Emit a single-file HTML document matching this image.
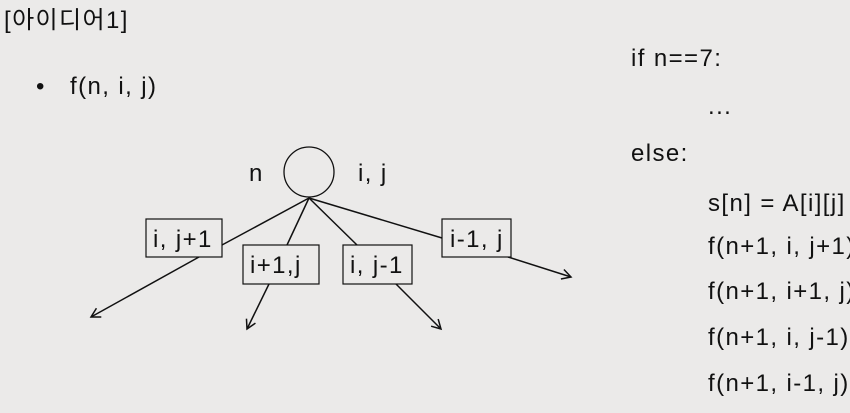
<!DOCTYPE html>
<html><head><meta charset="utf-8"><style>
body{margin:0;width:850px;height:413px;background:#ebeae9;overflow:hidden;position:relative;font-family:"Liberation Sans","Noto Sans CJK KR",sans-serif;color:#111}
.t{position:absolute;font-size:24px;letter-spacing:1.4px;white-space:nowrap;line-height:1}
</style></head><body>
<div class="t" style="left:4px;top:9px">[아이디어1]</div>
<div class="t" style="left:36px;top:75px">•&nbsp;&nbsp;&nbsp;f(n, i, j)</div>
<div class="t" style="left:631px;top:47px">if n==7:</div>
<div class="t" style="left:708px;top:95px">...</div>
<div class="t" style="left:631px;top:142px">else:</div>
<div class="t" style="left:708px;top:192px">s[n] = A[i][j]</div>
<div class="t" style="left:708px;top:235px">f(n+1, i, j+1)</div>
<div class="t" style="left:708px;top:280px">f(n+1, i+1, j)</div>
<div class="t" style="left:708px;top:326px">f(n+1, i, j-1)</div>
<div class="t" style="left:708px;top:372px">f(n+1, i-1, j)</div>
<svg width="850" height="413" style="position:absolute;left:0;top:0" font-family="Liberation Sans, sans-serif" font-size="24" letter-spacing="1.4" fill="#111">
<defs><marker id="a" markerWidth="12" markerHeight="12" refX="10" refY="6" orient="auto" markerUnits="userSpaceOnUse"><path d="M1,1 L10,6 L1,11" fill="none" stroke="#111" stroke-width="1.5"/></marker></defs>
<circle cx="309" cy="172" r="25" fill="none" stroke="#111" stroke-width="1.3"/>
<text x="249" y="181">n</text><text x="358" y="181">i, j</text>
<g stroke="#111" stroke-width="1.5" fill="none">
<line x1="309" y1="198" x2="222" y2="245"/><line x1="199" y1="257" x2="91" y2="317" marker-end="url(#a)"/>
<line x1="309" y1="198" x2="287" y2="245"/><line x1="269" y1="284" x2="247" y2="329" marker-end="url(#a)"/>
<line x1="309" y1="198" x2="357" y2="245"/><line x1="396" y1="284" x2="441" y2="329" marker-end="url(#a)"/>
<line x1="309" y1="198" x2="442" y2="238"/><line x1="508" y1="257" x2="571" y2="277" marker-end="url(#a)"/>
</g>
<g fill="#ebeae9" stroke="#111" stroke-width="1.2">
<rect x="146" y="219" width="76" height="38"/><rect x="243" y="245" width="76" height="39"/>
<rect x="343" y="245" width="69" height="39"/><rect x="442" y="219" width="69" height="38"/>
</g>
<text x="153" y="247">i, j+1</text><text x="250" y="273">i+1,j</text>
<text x="350" y="273">i, j-1</text><text x="450" y="247">i-1, j</text>
</svg>
</body></html>
